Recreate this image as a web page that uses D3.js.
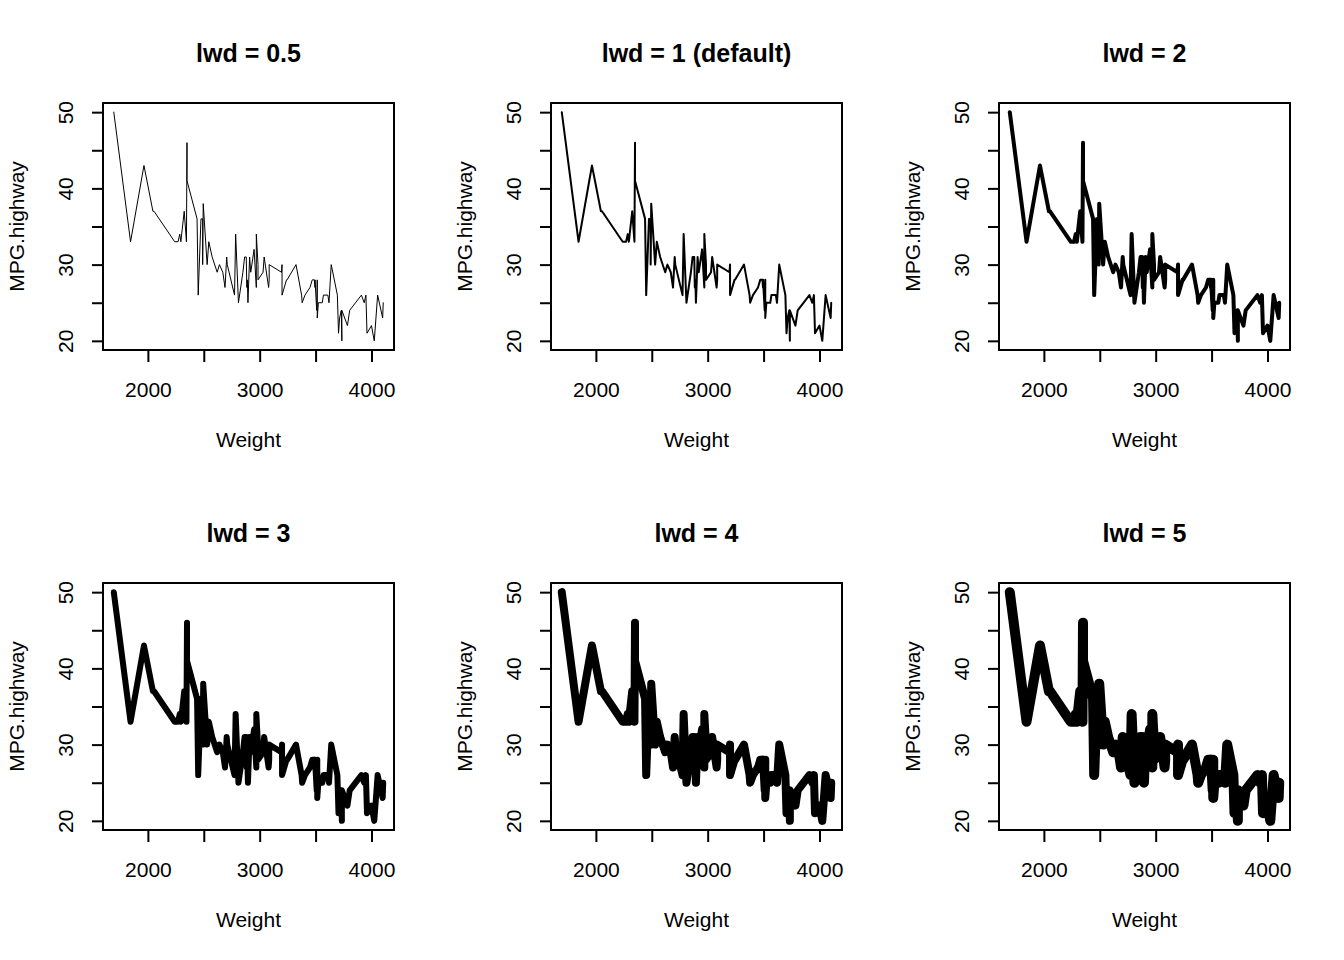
<!DOCTYPE html>
<html>
<head>
<meta charset="utf-8">
<script src="https://cdn.jsdelivr.net/npm/d3@7"></script>
<style>
  html, body { margin: 0; padding: 0; background: #ffffff; }
  svg { display: block; }
  text { font-family: "Liberation Sans", Arial, Helvetica, sans-serif; fill: #000; }
</style>
</head>
<body>
<svg id="chart" width="1344" height="960"></svg>
<script>
// Cars93 data (original row order)
const weight = [2705,3560,3375,3405,3640,2880,3470,4105,3495,3620,
                3935,2490,2785,3240,3195,3715,4025,3910,3380,3515,
                3085,3570,2270,2670,2970,3705,3080,3805,2295,3490,
                1845,2530,2690,2850,2710,3735,3325,3950,1695,2475,
                2865,2350,3040,2345,2620,2285,2885,4000,3510,3515,
                3695,4055,2325,2440,2970,3735,2895,2920,3525,2450,
                3610,2295,3730,2545,3200,4100,3200,2910,2890,3715,
                3470,2640,2350,2575,3240,3450,3495,2775,2495,2045,
                2490,3085,1965,2055,2950,3030,3785,2240,3960,2985,
                2810,2985,3245];
const mpgHighway = [31,25,26,26,30,31,28,25,27,25,
                    25,36,34,28,29,23,20,26,25,28,
                    28,26,33,29,27,21,27,24,33,28,
                    33,30,27,29,30,20,30,26,50,36,
                    31,46,31,33,29,34,27,22,24,23,
                    26,26,37,36,34,24,25,29,25,26,
                    26,33,24,33,30,23,26,31,28,23,
                    28,30,41,31,28,27,28,26,38,37,
                    30,30,43,37,32,29,22,33,21,30,
                    25,28,28];

const panelTitles = ["lwd = 0.5", "lwd = 1 (default)", "lwd = 2", "lwd = 3", "lwd = 4", "lwd = 5"];
const lineWidths = [0.5, 1, 2, 3, 4, 5];

const xTicks = [2000, 2500, 3000, 3500, 4000];
const xTickLabels = ["2000", "", "3000", "", "4000"];
const yTicks = [20, 25, 30, 35, 40, 45, 50];
const yTickLabels = ["20", "", "30", "", "40", "", "50"];

const xLabel = "Weight";
const yLabel = "MPG.highway";

// ---- layout ----
const W = 1344, H = 960, nCol = 3, nRow = 2;
const cellW = W / nCol, cellH = H / nRow;
const m = { left: 103, right: 54, top: 103, bottom: 130 };
const pw = cellW - m.left - m.right, ph = cellH - m.top - m.bottom;
const LWD = 2; // px per lwd unit

// sort points by weight (stable)
const idx = d3.range(weight.length).sort((a, b) => weight[a] - weight[b]);
const pts = idx.map(i => ({ x: weight[i], y: mpgHighway[i] }));

function padExtent(ext) { const r = ext[1] - ext[0]; return [ext[0] - 0.04 * r, ext[1] + 0.04 * r]; }
const xDom = padExtent(d3.extent(weight));
const yDom = padExtent(d3.extent(mpgHighway));

const svg = d3.select("#chart");
svg.append("rect").attr("width", W).attr("height", H).attr("fill", "#fff");

panelTitles.forEach((title, k) => {
  const col = k % nCol, row = Math.floor(k / nCol);
  const g = svg.append("g").attr("transform", `translate(${col * cellW + m.left},${row * cellH + m.top})`);

  const x = d3.scaleLinear().domain(xDom).range([0, pw]);
  const y = d3.scaleLinear().domain(yDom).range([ph, 0]);

  // data line
  const line = d3.line().x(d => x(d.x)).y(d => y(d.y));
  g.append("path").datum(pts)
    .attr("d", line)
    .attr("fill", "none")
    .attr("stroke", "#000")
    .attr("stroke-width", lineWidths[k] * LWD)
    .attr("stroke-linecap", "round")
    .attr("stroke-linejoin", "round");

  // box
  g.append("rect").attr("x", 0).attr("y", 0).attr("width", pw).attr("height", ph)
    .attr("fill", "none").attr("stroke", "#000").attr("stroke-width", LWD);

  // x axis
  const xa = g.append("g").attr("transform", `translate(0,${ph})`)
    .call(d3.axisBottom(x).tickValues(xTicks).tickSize(12)
      .tickFormat((d, i) => xTickLabels[i]));
  xa.select(".domain").remove();
  xa.selectAll(".tick line").attr("stroke", "#000").attr("stroke-width", LWD);
  xa.selectAll(".tick text").attr("y", 47).attr("dy", 0)
    .style("font-size", "21px").style("font-family", "'Liberation Sans', Arial, sans-serif").attr("fill", "#000");

  // y axis
  const ya = g.append("g")
    .call(d3.axisLeft(y).tickValues(yTicks).tickSize(11)
      .tickFormat((d, i) => yTickLabels[i]));
  ya.select(".domain").remove();
  ya.selectAll(".tick line").attr("stroke", "#000").attr("stroke-width", LWD);
  ya.selectAll(".tick text")
    .attr("transform", "rotate(-90)")
    .attr("x", 0).attr("y", -30).attr("dy", 0)
    .attr("text-anchor", "middle")
    .style("font-size", "21px").style("font-family", "'Liberation Sans', Arial, sans-serif").attr("fill", "#000");

  // title
  g.append("text").attr("x", pw / 2).attr("y", -41.5)
    .attr("text-anchor", "middle")
    .style("font-size", "25px").style("font-weight", "bold")
    .text(title);

  // axis labels
  g.append("text").attr("x", pw / 2).attr("y", ph + 97)
    .attr("text-anchor", "middle").style("font-size", "21px").text(xLabel);
  g.append("text").attr("transform", `translate(-79,${ph / 2}) rotate(-90)`)
    .attr("text-anchor", "middle").style("font-size", "21px").text(yLabel);
});
</script>
</body>
</html>
